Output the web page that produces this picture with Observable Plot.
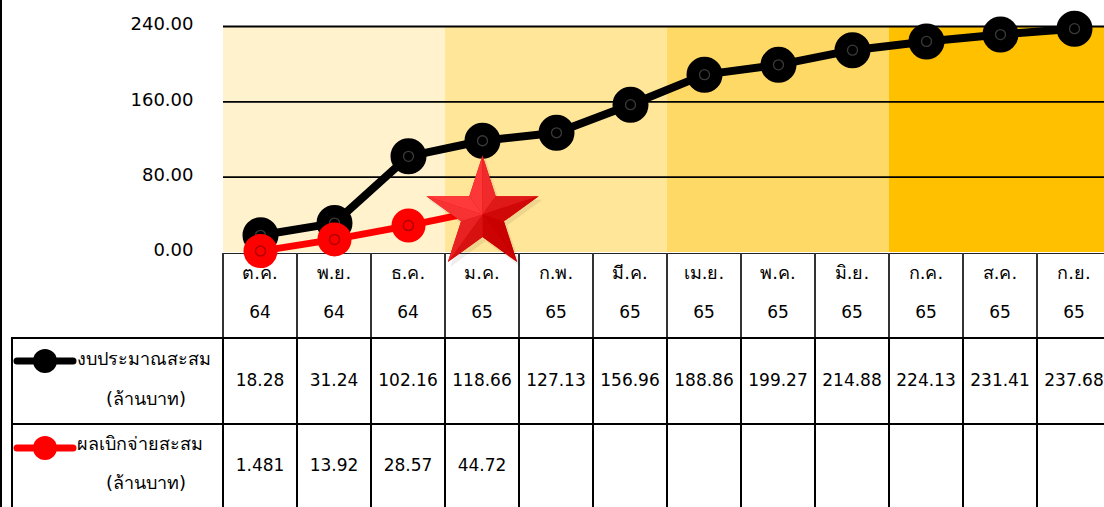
<!DOCTYPE html>
<html><head><meta charset="utf-8">
<script src="https://cdn.jsdelivr.net/npm/d3@7"></script>
<script src="https://cdn.jsdelivr.net/npm/@observablehq/plot@0.6"></script>
<style>
html,body{margin:0;padding:0;background:#fff;overflow:hidden;}
#wrap{position:relative;width:1104px;height:507px;overflow:hidden;font-family:Tahoma,"DejaVu Sans","Noto Sans",sans-serif;color:#000;}
#table,#chart{position:absolute;left:0;top:0;}
#table{width:1104px;height:507px;}
#chart svg{max-width:none !important;}
.t{position:absolute;text-align:center;white-space:nowrap;line-height:20px;height:20px;}
.ln{position:absolute;background:#000;}
</style></head>
<body><div id="wrap"><div id="table"></div><div id="chart"></div></div>
<script>
const months = ["ต.ค.","พ.ย.","ธ.ค.","ม.ค.","ก.พ.","มี.ค.","เม.ย.","พ.ค.","มิ.ย.","ก.ค.","ส.ค.","ก.ย."];
const years = ["64","64","64","65","65","65","65","65","65","65","65","65"];
const budget = [18.28,31.24,102.16,118.66,127.13,156.96,188.86,199.27,214.88,224.13,231.41,237.68];
const disbursed = [1.481,13.92,28.57,44.72];
const quarterOf = [1,1,1,2,2,2,3,3,3,4,4,4];
const quarterColors = ["#FFF2CC","#FFE699","#FFD966","#FFC000"];
const yTicks = [0,80,160,240];
const seriesNames = [["งบประมาณสะสม","(ล้านบาท)"],["ผลเบิกจ่ายสะสม","(ล้านบาท)"]];
const seriesColors = ["#000000","#FF0000"];

const budgetData = months.map((m,i)=>({month:m, value:budget[i]}));
const disbData = disbursed.map((v,i)=>({month:months[i], value:v}));
const bgData = months.map((m,i)=>({month:m, q:quarterOf[i]}));
const starData = [disbData[disbData.length-1]];

// bevelled star facets
function starFacet(k){
  return {draw(ctx,size){
    const R=Math.sqrt(size/Math.PI), r=R*0.382;
    const tip=Math.floor(k/2), side=k%2;
    const ta=(-90+72*tip)*Math.PI/180;
    const ia=(-90+72*tip+(side?36:-36))*Math.PI/180;
    ctx.moveTo(0,0);
    ctx.lineTo(R*Math.cos(ta),R*Math.sin(ta));
    ctx.lineTo(r*Math.cos(ia),r*Math.sin(ia));
    ctx.closePath();
  }};
}
const starFull={draw(ctx,size){
  const R=Math.sqrt(size/Math.PI), r=R*0.382;
  for(let i=0;i<10;i++){
    const a=(-90+36*i)*Math.PI/180, rr=i%2?r:R;
    if(i===0)ctx.moveTo(rr*Math.cos(a),rr*Math.sin(a)); else ctx.lineTo(rr*Math.cos(a),rr*Math.sin(a));
  }
  ctx.closePath();
}};
const shade=d3.interpolateRgb("#c80000","#ff3a3a");
const facetMarks=d3.range(10).map(k=>{
  const tip=Math.floor(k/2), side=k%2;
  const mid=-90+72*tip+(side?18:-18);
  const b=Math.cos((mid+135)*Math.PI/180);
  return Plot.dot(starData,{x:"month",y:"value",r:59,dy:4,symbol:starFacet(k),fill:shade((b+1)/2),stroke:"none"});
});

const chart = Plot.plot({
  width:1111, height:507,
  marginTop:26, marginBottom:255, marginLeft:223, marginRight:0,
  style:{background:"transparent",overflow:"visible",maxWidth:"none",fontFamily:'Tahoma,"DejaVu Sans","Noto Sans",sans-serif'},
  x:{type:"band",domain:months,padding:0,axis:null},
  y:{domain:[0,240],axis:null},
  marks:[
    Plot.barY(bgData,{x:"month",y1:0,y2:yTicks[yTicks.length-1],fill:d=>quarterColors[d.q-1],insetLeft:0,insetRight:0,shapeRendering:"crispEdges"}),
    Plot.ruleY(yTicks.filter(d=>d>0),{stroke:"#000",strokeWidth:1.8}),
    Plot.text(yTicks,{y:d=>d,text:d=>d.toFixed(2),frameAnchor:"left",textAnchor:"end",dx:-30,dy:-2,fontSize:18,fill:"#000"}),
    Plot.line(budgetData,{x:"month",y:"value",stroke:seriesColors[0],strokeWidth:8}),
    Plot.dot(budgetData,{x:"month",y:"value",r:16,fill:seriesColors[0],stroke:seriesColors[0],strokeWidth:4}),
    Plot.dot(budgetData,{x:"month",y:"value",r:5,fill:"none",stroke:"#3a3a3a",strokeWidth:1.3}),
    Plot.line(disbData,{x:"month",y:"value",stroke:seriesColors[1],strokeWidth:7}),
    Plot.dot(disbData.slice(0,-1),{x:"month",y:"value",r:15,fill:seriesColors[1],stroke:seriesColors[1],strokeWidth:4}),
    Plot.dot(disbData.slice(0,-1),{x:"month",y:"value",r:5,fill:"none",stroke:"#b00000",strokeWidth:1.5}),
    Plot.dot(starData,{x:"month",y:"value",r:60,dx:3,dy:8,symbol:starFull,fill:"#000",fillOpacity:0.07,stroke:"none"}),
    Plot.dot(starData,{x:"month",y:"value",r:59,dy:4,symbol:starFull,fill:"#f00000",stroke:"none"}),
    ...facetMarks
  ]
});
chart.style.maxWidth="none";
document.getElementById("chart").appendChild(chart);

// table aligned with the x scale
const xs=chart.scale("x"), bw=xs.bandwidth;
const tbl=document.getElementById("table");
function line(l,t,w,h,c){const d=document.createElement("div");d.className="ln";Object.assign(d.style,{left:l+"px",top:t+"px",width:w+"px",height:h+"px",background:c||"#000"});tbl.appendChild(d);}
function txt(s,cx,cy,size,align,l){const d=document.createElement("div");d.className="t";d.textContent=s;d.style.fontSize=size+"px";
  if(align==="left"){d.style.left=l+"px";d.style.textAlign="left";}else{d.style.left=(cx-100)+"px";d.style.width="200px";}
  d.style.top=(cy-10)+"px";tbl.appendChild(d);}
const x0=xs.apply(months[0]);
const H0=252.5,H1=337,R1=422.5,B=507;
line(0,0,2,B);
line(x0,H0,1111-x0,1.5,"#222");
line(12,H1,1111-12,2);
line(12,R1,1111-12,2);
line(11,H1,2,B-H1);
months.forEach((m,i)=>{
  const l=xs.apply(m);
  line(l-0.75,H0,1.5,H1-H0,"#333");
  line(l-1,H1,2,B-H1);
  const cx=l+bw/2;
  txt(m,cx,273,18);
  txt(years[i],cx,312,17);
  txt(String(budget[i]),cx,380,17);
  if(i<disbursed.length) txt(String(disbursed[i]),cx,465,17);
});
// legend cells
[[361,359,399],[448,444,483]].forEach(([iy,t1,t2],k)=>{
  const s=document.createElementNS("http://www.w3.org/2000/svg","svg");
  s.setAttribute("width","64");s.setAttribute("height","30");
  Object.assign(s.style,{position:"absolute",left:"13px",top:(iy-15)+"px"});
  s.innerHTML=`<line x1="4" y1="15" x2="60" y2="15" stroke="${seriesColors[k]}" stroke-width="7" stroke-linecap="round"/><circle cx="32" cy="15" r="12" fill="${seriesColors[k]}"/>`;
  tbl.appendChild(s);
  txt(seriesNames[k][0],0,t1,18,"left",77);
  txt(seriesNames[k][1],146,t2,18);
});
</script></body></html>
